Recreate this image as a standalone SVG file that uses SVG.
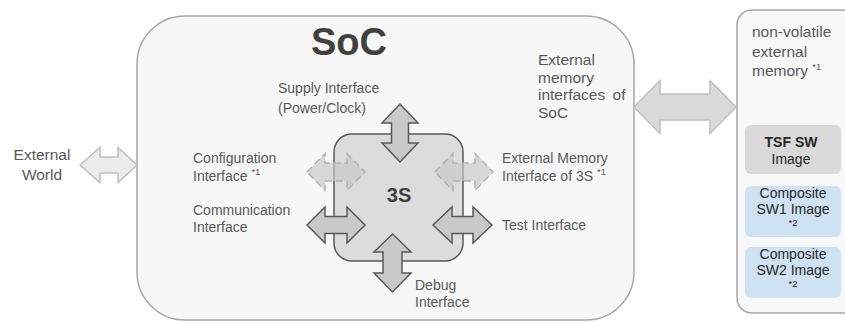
<svg xmlns="http://www.w3.org/2000/svg" width="845" height="322" viewBox="0 0 845 322">
  <style>
    text { font-family: "Liberation Sans", Arial, sans-serif; fill: #595959; font-size: 14px; }
    .big { font-size: 15.5px; }
    .title { font-size: 38px; font-weight: bold; fill: #404040; }
    .core { font-size: 20px; font-weight: bold; fill: #404040; }
    .sup { font-size: 9.5px; }
    .img { fill: #262626; text-anchor: middle; }
    .arrow { fill: #c9c9c9; stroke: #595959; stroke-width: 1.5; stroke-linejoin: miter; }
    .dashed { fill: #c8c8c8; fill-opacity: 0.65; stroke: #b3b3b3; stroke-width: 1.5; stroke-dasharray: 7 4; }
    .ext { fill: #d9d9d9; stroke: #bfbfbf; stroke-width: 1.5; }
    .world { fill: #ebebeb; stroke: #bfbfbf; stroke-width: 1.5; }
  </style>
  <rect width="845" height="322" fill="#ffffff"/>

  <!-- System on chip enclosure -->
  <g id="soc">
    <rect x="137" y="16" width="497" height="304" rx="48" fill="#f7f7f7" stroke="#a6a6a6" stroke-width="1.5"/>
    <text class="title" x="349" y="55" text-anchor="middle">SoC</text>
    <text class="big" x="538" y="65">External</text>
    <text class="big" x="538" y="83">memory</text>
    <text class="big" x="538" y="100" word-spacing="3">interfaces of</text>
    <text class="big" x="538" y="118">SoC</text>
  </g>

  <!-- Security subsystem core -->
  <g id="core-3s">
    <rect x="334" y="134" width="129" height="127" rx="18" fill="#dcdcdc" stroke="#595959" stroke-width="1.5"/>
    <text class="core" x="399" y="202" text-anchor="middle">3S</text>
  </g>

  <!-- Non-volatile external memory -->
  <g id="nv-memory">
    <rect x="737" y="10" width="120" height="303" rx="15" fill="#f8f8f8" stroke="#a6a6a6" stroke-width="1.5"/>
    <text class="big" x="752" y="37">non-volatile</text>
    <text class="big" x="752" y="57">external</text>
    <text class="big" x="752" y="76">memory <tspan class="sup" dy="-6">*1</tspan></text>
  </g>
  <g id="tsf-image">
    <rect x="745" y="125" width="96" height="49" rx="6" fill="#d9d9d9"/>
    <text class="img" x="791" y="147" font-weight="bold">TSF SW</text>
    <text class="img" x="791" y="164">Image</text>
  </g>
  <g id="sw1-image">
    <rect x="745" y="186" width="96" height="51" rx="6" fill="#cfe2f3"/>
    <text class="img" x="793" y="198">Composite</text>
    <text class="img" x="793" y="214">SW1 Image</text>
    <text class="img sup" x="793" y="226">*2</text>
  </g>
  <g id="sw2-image">
    <rect x="745" y="247" width="96" height="51" rx="6" fill="#cfe2f3"/>
    <text class="img" x="793" y="259">Composite</text>
    <text class="img" x="793" y="275">SW2 Image</text>
    <text class="img sup" x="793" y="287">*2</text>
  </g>

  <!-- Interfaces (double-headed arrows) -->
  <g id="connectors">
    <path class="world" d="M80 165 L100 147.5 L100 157 L118 157 L118 147.5 L137 165 L118 182.5 L118 173 L100 173 L100 182.5 Z"/>
    <path class="ext" d="M634 107 L660 80.5 L660 94 L710 94 L710 80.5 L736 107 L710 133.5 L710 120 L660 120 L660 133.5 Z"/>
    <path class="dashed" d="M307 172 L325 153.5 L325 163 L347 163 L347 153.5 L365 172 L347 190.5 L347 181 L325 181 L325 190.5 Z"/>
    <path class="dashed" d="M435 172 L453 153.5 L453 163 L475 163 L475 153.5 L493 172 L475 190.5 L475 181 L453 181 L453 190.5 Z"/>
    <path class="arrow" d="M400 104 L418 123 L408.5 123 L408.5 143 L418 143 L400 162 L382 143 L391.5 143 L391.5 123 L382 123 Z"/>
    <path class="arrow" d="M307 225 L325 207 L325 216.5 L347 216.5 L347 207 L365 225 L347 243 L347 233.5 L325 233.5 L325 243 Z"/>
    <path class="arrow" d="M433 225 L452 207 L452 216.5 L473 216.5 L473 207 L492 225 L473 243 L473 233.5 L452 233.5 L452 243 Z"/>
    <path class="arrow" d="M392.5 234 L411 252 L402 252 L402 273 L411 273 L392.5 292 L374 273 L383 273 L383 252 L374 252 Z"/>
  </g>

  <!-- Interface labels -->
  <g id="labels">
    <text class="big" x="42" y="160" text-anchor="middle">External</text>
    <text class="big" x="42" y="180" text-anchor="middle">World</text>
    <text x="278" y="93">Supply Interface</text>
    <text x="278" y="113">(Power/Clock)</text>
    <text x="193" y="163">Configuration</text>
    <text x="193" y="181">Interface <tspan class="sup" dy="-6">*1</tspan></text>
    <text x="193" y="215">Communication</text>
    <text x="193" y="232">Interface</text>
    <text x="502" y="163">External Memory</text>
    <text x="502" y="181">Interface of 3S <tspan class="sup" dy="-6">*1</tspan></text>
    <text x="502" y="230">Test Interface</text>
    <text x="415" y="290">Debug</text>
    <text x="415" y="307">Interface</text>
  </g>
</svg>
